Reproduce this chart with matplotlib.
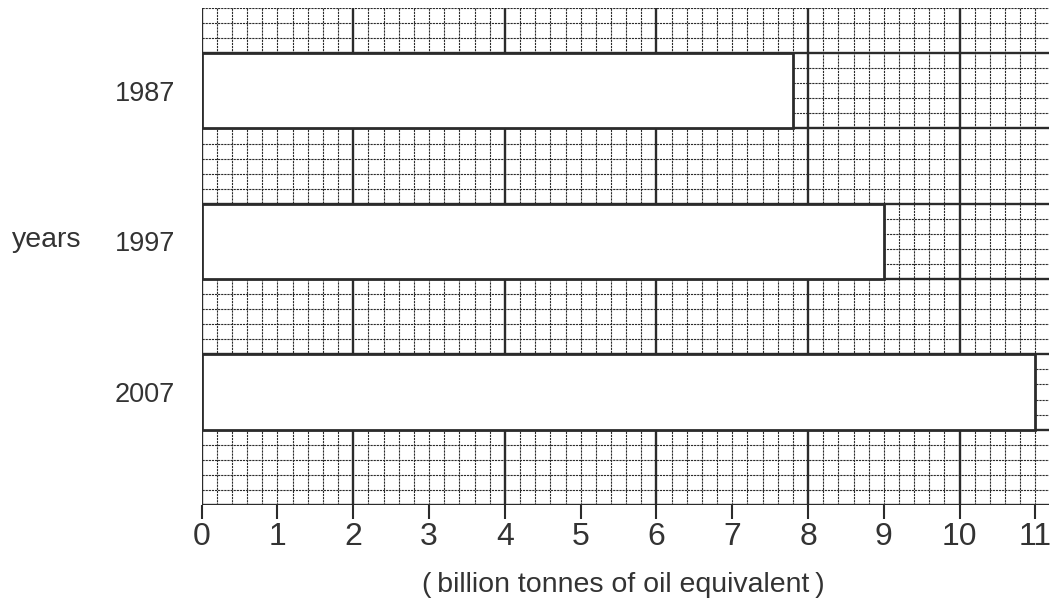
import matplotlib.pyplot as plt
import numpy as np

years = ["1987", "1997", "2007"]
energy = [7.8, 9.0, 11.0]  # billion tonnes of oil equivalent
x_ticks = list(range(0, 12))

plt.rcParams["font.family"] = ["Liberation Sans", "DejaVu Sans"]
ink = "#2b2b2b"
text_col = "#333333"

fig = plt.figure(figsize=(10.5, 6.09), dpi=100)
ax = fig.add_axes([0.1921, 0.1708, 0.8070, 0.8161])

x_max = 11.18
y_max = 33  # graph paper rows
ax.set_xlim(0, x_max)
ax.set_ylim(0, y_max)

# graph paper: small squares of 0.2 units, bold lines every 2 units across / 5 rows down
for gx in np.arange(0, x_max + 0.01, 0.2):
    major = abs(gx / 2 - round(gx / 2)) < 1e-6
    ax.axvline(gx, color=ink, lw=1.7 if major else 0.8,
               ls="-" if major else (0, (2, 0.8)), zorder=1)
for gy in np.arange(0, y_max + 0.01, 1):
    major = gy % 5 == 0
    ax.axhline(gy, color=ink, lw=1.7 if major else 0.8,
               ls="-" if major else (0, (2, 0.8)), zorder=1)

# each bar spans 5 rows, gaps of 5 rows between them
centers = [27.5, 17.5, 7.5]
ax.barh(centers, energy, height=5, color="white", edgecolor=ink, lw=2, zorder=3)

for s in ax.spines.values():
    s.set_visible(False)

ax.set_xticks(x_ticks)
ax.tick_params(axis="x", length=10, width=1.5, color=ink, labelsize=23,
               labelcolor=text_col, pad=2)
ax.set_yticks(centers, years)
ax.tick_params(axis="y", length=0, pad=19, labelsize=19.5, labelcolor=text_col)

fig.text(12 / 1050, 1 - 240 / 609, "years", fontsize=20.5, color=text_col,
         ha="left", va="center")
fig.text(623 / 1050, 1 - 585 / 609, "(\u2009billion tonnes of oil equivalent\u2009)",
         fontsize=20.5, color=text_col, ha="center", va="center")

fig.savefig("out.png", dpi=100)
